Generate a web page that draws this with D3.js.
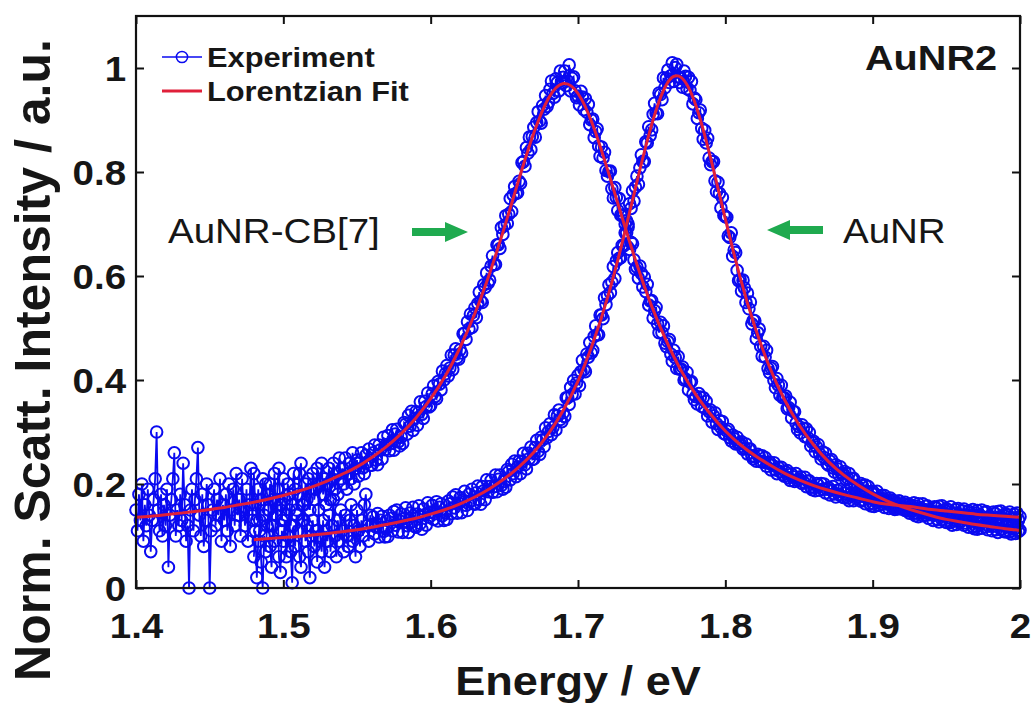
<!DOCTYPE html>
<html>
<head>
<meta charset="utf-8">
<script src="https://cdn.jsdelivr.net/npm/d3@7"></script>
<style>
  html, body { margin: 0; padding: 0; background: #ffffff; }
  svg { display: block; }
</style>
</head>
<body>
<svg id="chart" width="1035" height="705"></svg>
<script>
// ---- energy sampling (eV) ----
const cb7Start = 1.40;      // first sample of the AuNR-CB[7] spectrum
const aunrStart = 1.48;     // first sample of the bare AuNR spectrum
const sampleStep = 0.001;   // spectrometer step
const fitStep = 0.01;       // step of the tabulated Lorentzian fits

// ---- measured scattering, AuNR-CB[7] (one row = 10 meV) ----
const cb7Measured = [
  .15,.11,.18,.13,.20,.09,.16,.12,.19,.14,
  .07,.13,.17,.21,.30,.15,.11,.18,.10,.16,
  .12,.19,.04,.14,.17,.21,.26,.10,.15,.12,
  .18,.13,.24,.16,.09,.12,.00,.15,.19,.11,
  .17,.21,.27,.14,.10,.18,.08,.13,.20,.16,
  .00,.11,.15,.19,.12,.17,.14,.21,.09,.16,
  .13,.18,.11,.20,.08,.15,.19,.12,.22,.14,
  .17,.10,.21,.15,.12,.19,.09,.16,.23,.13,
  .22,.16,.13,.19,.11,.17,.21,.14,.20,.18,
  .15,.20,.12,.17,.22,.14,.19,.23,.16,.13,
  .21,.17,.14,.20,.18,.12,.16,.22,.19,.15,
  .18,.22,.24,.16,.13,.20,.17,.21,.15,.19,
  .22,.17,.19,.23,.15,.20,.24,.18,.21,.16,
  .20,.23,.17,.21,.24,.19,.22,.18,.25,.21,
  .23,.20,.25,.19,.22,.24,.21,.26,.20,.23,
  .246,.215,.241,.260,.231,.220,.255,.242,.267,.236,
  .236,.260,.275,.246,.237,.275,.266,.248,.290,.266,
  .276,.293,.264,.278,.304,.265,.296,.305,.281,.273,
  .290,.278,.318,.315,.296,.332,.311,.340,.303,.326,
  .339,.313,.338,.358,.334,.326,.359,.349,.375,.348,
  .351,.373,.389,.368,.364,.397,.392,.381,.417,.400,
  .412,.428,.408,.423,.448,.420,.448,.460,.443,.440,
  .458,.452,.489,.490,.478,.512,.498,.527,.501,.524,
  .539,.520,.547,.569,.552,.549,.583,.578,.606,.586,
  .592,.619,.639,.622,.622,.660,.660,.653,.693,.680,
  .697,.716,.701,.719,.749,.724,.756,.772,.759,.760,
  .782,.778,.818,.820,.811,.847,.836,.867,.843,.868,
  .886,.867,.895,.916,.898,.894,.928,.921,.947,.926,
  .934,.959,.975,.951,.944,.979,.972,.956,.994,.971,
  .982,.994,.966,.975,1.006,.956,.980,.983,.956,.943,
  .946,.929,.955,.944,.920,.941,.915,.930,.891,.900,
  .902,.866,.878,.883,.850,.830,.848,.827,.838,.803,
  .792,.801,.802,.768,.750,.770,.751,.726,.749,.717,
  .716,.717,.683,.683,.694,.651,.665,.662,.631,.613,
  .617,.596,.619,.605,.579,.598,.570,.584,.544,.552,
  .553,.519,.533,.540,.508,.491,.511,.491,.504,.471,
  .464,.474,.478,.450,.436,.457,.443,.422,.445,.421,
  .421,.425,.400,.402,.415,.381,.396,.397,.373,.362,
  .368,.354,.374,.367,.349,.366,.346,.359,.331,.339,
  .342,.319,.331,.337,.316,.305,.322,.309,.320,.297,
  .296,.302,.305,.289,.283,.294,.287,.277,.290,.277,
  .278,.281,.267,.269,.277,.258,.267,.267,.254,.248,
  .252,.244,.257,.254,.243,.254,.242,.251,.234,.240,
  .242,.227,.236,.241,.227,.220,.232,.224,.232,.218,
  .215,.223,.226,.212,.207,.219,.214,.205,.220,.207,
  .210,.214,.201,.204,.213,.195,.205,.206,.194,.189,
  .194,.187,.201,.198,.188,.201,.190,.200,.183,.190,
  .193,.179,.188,.195,.181,.175,.188,.180,.190,.176,
  .174,.182,.187,.173,.168,.182,.177,.168,.183,.172,
  .175,.179,.167,.170,.179,.162,.173,.174,.162,.158,
  .163,.157,.171,.169,.159,.172,.161,.172,.155,.163,
  .166,.153,.162,.169,.156,.151,.164,.157,.167,.153,
  .152,.161,.165,.152,.148,.161,.157,.149,.164,.153,
  .157,.162,.149,.153,.162,.145,.157,.158,.147,.142,
  .148,.142,.156,.154,.145,.157,.147,.158,.141,.149,
  .153,.140,.149,.156,.143,.137,.151,.144,.153,.140,
  .139,.148,.152,.139,.135,.148,.144,.136,.151,.140,
  .144,.149,.137,.140,.150,.133,.145,.147,.135,.131,
  .137,.131,.146,.143,.134,.147,.137,.148,.131,.139,
  .143,.130,.140,.146,.133,.128,.142,.135,.144,.131,
  .137
];

// ---- measured scattering, bare AuNR (one row = 10 meV) ----
const aunrMeasured = [
  .06,.11,.02,.09,.13,.05,.00,.10,.07,.12,
  .15,.08,.04,.12,.09,.14,.17,.06,.03,.11,
  .09,.13,.06,.10,.15,.07,.01,.12,.08,.14,
  .11,.06,.04,.13,.16,.09,.12,.07,.02,.10,
  .13,.08,.11,.05,.15,.10,.07,.13,.04,.11,
  .09,.14,.07,.12,.17,.10,.06,.13,.09,.15,
  .11,.07,.14,.10,.08,.13,.16,.09,.12,.06,
  .15,.11,.08,.13,.10,.16,.18,.12,.09,.14,
  .122,.137,.104,.117,.143,.098,.130,.138,.109,.098,
  .115,.099,.140,.134,.110,.147,.121,.150,.108,.129,
  .142,.107,.134,.154,.120,.107,.144,.127,.155,.119,
  .117,.142,.158,.124,.113,.152,.141,.121,.164,.136,
  .146,.159,.132,.143,.166,.129,.155,.162,.139,.130,
  .145,.132,.167,.162,.143,.175,.154,.179,.144,.163,
  .174,.145,.169,.186,.159,.149,.180,.167,.190,.162,
  .161,.183,.196,.170,.161,.195,.187,.170,.208,.185,
  .195,.207,.184,.195,.217,.185,.209,.217,.197,.190,
  .205,.194,.228,.224,.208,.238,.220,.244,.214,.233,
  .244,.220,.243,.259,.237,.229,.259,.249,.271,.247,
  .248,.270,.284,.263,.257,.290,.285,.272,.308,.289,
  .301,.316,.295,.309,.333,.304,.331,.342,.324,.320,
  .337,.330,.366,.366,.353,.386,.372,.399,.373,.394,
  .409,.389,.416,.438,.420,.416,.450,.444,.472,.452,
  .457,.484,.504,.487,.487,.525,.525,.518,.558,.545,
  .562,.583,.568,.588,.618,.595,.629,.645,.634,.635,
  .659,.658,.700,.706,.700,.739,.730,.764,.744,.771,
  .792,.776,.808,.833,.820,.820,.858,.856,.887,.870,
  .881,.911,.932,.913,.912,.952,.949,.939,.981,.962,
  .980,.996,.972,.985,1.010,.974,1.001,1.007,.983,.972,
  .980,.963,.994,.984,.960,.982,.957,.974,.931,.942,
  .939,.903,.914,.919,.884,.863,.880,.856,.865,.827,
  .814,.820,.820,.783,.762,.780,.759,.731,.751,.717,
  .714,.713,.677,.674,.683,.638,.650,.645,.611,.591,
  .593,.571,.592,.577,.549,.567,.537,.550,.508,.515,
  .514,.479,.491,.498,.465,.446,.465,.444,.457,.422,
  .414,.423,.426,.399,.385,.403,.390,.371,.390,.366,
  .366,.369,.345,.347,.357,.327,.340,.339,.317,.305,
  .310,.298,.314,.307,.291,.306,.289,.299,.273,.280,
  .282,.262,.271,.276,.258,.248,.262,.251,.259,.239,
  .236,.244,.247,.231,.223,.237,.229,.218,.233,.219,
  .220,.224,.208,.211,.220,.199,.210,.211,.197,.190,
  .195,.187,.201,.197,.186,.198,.186,.195,.177,.184,
  .186,.172,.180,.186,.171,.165,.178,.169,.178,.163,
  .161,.169,.173,.159,.154,.167,.161,.152,.167,.155,
  .158,.162,.149,.152,.161,.144,.155,.156,.144,.139,
  .144,.137,.151,.149,.139,.151,.140,.150,.134,.141,
  .144,.130,.140,.146,.132,.127,.140,.132,.141,.128,
  .126,.135,.139,.126,.121,.135,.130,.122,.137,.126,
  .129,.134,.121,.125,.134,.117,.128,.130,.118,.114,
  .119,.113,.127,.125,.115,.128,.118,.128,.112,.119,
  .123,.110,.119,.126,.112,.107,.121,.113,.123,.109,
  .108,.117,.121,.108,.104,.117,.113,.105,.120,.109,
  .111
];

// ---- Lorentzian fits, tabulated every 10 meV ----
const cb7Fit = [
  .136,.138,.141,.144,.147,.151,.155,.160,.165,.171,
  .178,.186,.195,.206,.219,.233,.251,.272,.297,.327,
  .364,.408,.463,.528,.605,.693,.787,.875,.942,.970,
  .951,.891,.805,.712,.622,.542,.475,.418,.372,.334,
  .302,.276,.255,.237,.221,.208,.197,.188,.180,.173,
  .166,.161,.158,.155,.151,.148,.145,.142,.140,.138,
  .136
];
const aunrFit = [
  .093,.095,
  .097,.099,.102,.105,.108,.112,.117,.122,.128,.134,
  .142,.151,.162,.175,.191,.210,.233,.261,.297,.342,
  .398,.470,.558,.664,.781,.891,.968,.982,.928,.827,
  .710,.598,.503,.425,.363,.314,.275,.243,.218,.198,
  .181,.167,.156,.147,.139,.132,.127,.122,.118,.114,
  .111
];

// ---- axes ----
const xTicks = [1.4, 1.5, 1.6, 1.7, 1.8, 1.9, 2];
const yTicks = [0, 0.2, 0.4, 0.6, 0.8, 1];
const xDomain = [1.4, 2];
const yDomain = [0, 1.1];

const legendLabels = ["Experiment", "Lorentzian Fit"];
const panelLabel = "AuNR2";
const peakLabels = ["AuNR-CB[7]", "AuNR"];

// ---- styling ----
const FONT = "'Liberation Sans', Arial, Helvetica, sans-serif";
const SX = 1.1;               // slight horizontal widening of glyphs
const BLUE = "#0a0af0";
const RED = "#e0203a";
const GREEN = "#1faa4f";
const INK = "#161616";

const svg = d3.select("#chart");
svg.append("rect").attr("width", 1035).attr("height", 705).attr("fill", "#fff");

const plot = { left: 136, right: 1020, top: 16, bottom: 588 };
const x = d3.scaleLinear().domain(xDomain).range([plot.left, plot.right]);
const y = d3.scaleLinear().domain(yDomain).range([plot.bottom, plot.top]);

function toPoints(values, start, step) {
  return values.map((v, i) => ({ e: start + i * step, v }));
}
const cb7Pts = toPoints(cb7Measured, cb7Start, sampleStep);
const aunrPts = toPoints(aunrMeasured, aunrStart, sampleStep);
const cb7FitPts = toPoints(cb7Fit, cb7Start, fitStep);
const aunrFitPts = toPoints(aunrFit, aunrStart, fitStep);

const rawLine = d3.line().x(d => x(d.e)).y(d => y(d.v));
const fitLine = d3.line().x(d => x(d.e)).y(d => y(d.v)).curve(d3.curveNatural);

// measured spectra: line + open circles
const dataLayer = svg.append("g");
[cb7Pts, aunrPts].forEach(pts => {
  const g = dataLayer.append("g");
  g.append("path").datum(pts)
    .attr("d", rawLine)
    .attr("fill", "none")
    .attr("stroke", BLUE)
    .attr("stroke-width", 1.8);
  g.selectAll("circle").data(pts).join("circle")
    .attr("cx", d => x(d.e))
    .attr("cy", d => y(d.v))
    .attr("r", 5.8)
    .attr("fill", "none")
    .attr("stroke", BLUE)
    .attr("stroke-width", 2);
});

// fitted curves on top
[cb7FitPts, aunrFitPts].forEach(pts => {
  svg.append("path").datum(pts)
    .attr("d", fitLine)
    .attr("fill", "none")
    .attr("stroke", RED)
    .attr("stroke-width", 3);
});

// ---- axes with inward ticks on all four sides ----
const TICK = 8;
const axB = svg.append("g").attr("transform", `translate(0,${plot.bottom})`)
  .call(d3.axisBottom(x).tickValues(xTicks).tickSize(-TICK).tickFormat(d => String(d)));
const axL = svg.append("g").attr("transform", `translate(${plot.left},0)`)
  .call(d3.axisLeft(y).tickValues(yTicks).tickSize(-TICK).tickFormat(d => String(d)));
const axT = svg.append("g").attr("transform", `translate(0,${plot.top})`)
  .call(d3.axisTop(x).tickValues(xTicks).tickSize(-TICK).tickFormat(""));
const axR = svg.append("g").attr("transform", `translate(${plot.right},0)`)
  .call(d3.axisRight(y).tickValues(yTicks).tickSize(-TICK).tickFormat(""));

[axB, axL, axT, axR].forEach(a => {
  a.select(".domain").remove();
  a.selectAll(".tick line").attr("stroke", "#111").attr("stroke-width", 2);
});

axB.selectAll(".tick text")
  .attr("y", 50).attr("dy", null)
  .attr("transform", `scale(${SX},1)`)
  .attr("fill", INK)
  .style("font-family", FONT).style("font-size", "35px").style("font-weight", "bold");

axL.selectAll(".tick text")
  .attr("x", -9).attr("dy", "0.36em")
  .attr("transform", `scale(${SX},1)`)
  .attr("fill", INK)
  .style("font-family", FONT).style("font-size", "35px").style("font-weight", "bold");

// frame
svg.append("rect")
  .attr("x", plot.left).attr("y", plot.top)
  .attr("width", plot.right - plot.left).attr("height", plot.bottom - plot.top)
  .attr("fill", "none").attr("stroke", "#111").attr("stroke-width", 2.2);

// ---- text helper ----
function label(txt, px, py, size, weight, anchor, vertical) {
  const tf = vertical
    ? `translate(${px},${py}) rotate(-90)`
    : `translate(${px},${py}) scale(${SX},1)`;
  return svg.append("text")
    .attr("transform", tf)
    .attr("text-anchor", anchor)
    .attr("fill", INK)
    .style("font-family", FONT)
    .style("font-size", size + "px")
    .style("font-weight", weight)
    .text(txt);
}

// axis titles
label("Energy / eV", (plot.left + plot.right) / 2, 695, 41, "bold", "middle", false);
label("Norm. Scatt. Intensity / a.u.", 50, 360, 50, "bold", "middle", true);

// panel label
label(panelLabel, 997, 70, 36, "bold", "end", false);

// legend
const legY = [57, 91];
svg.append("line").attr("x1", 162).attr("x2", 202).attr("y1", legY[0]).attr("y2", legY[0])
  .attr("stroke", BLUE).attr("stroke-width", 1.5);
svg.append("circle").attr("cx", 182).attr("cy", legY[0]).attr("r", 5.6)
  .attr("fill", "none").attr("stroke", BLUE).attr("stroke-width", 1.5);
svg.append("line").attr("x1", 162).attr("x2", 202).attr("y1", legY[1]).attr("y2", legY[1])
  .attr("stroke", RED).attr("stroke-width", 3);
label(legendLabels[0], 207, 67, 28, "bold", "start", false);
label(legendLabels[1], 207, 101, 28, "bold", "start", false);

// peak annotations with arrows
label(peakLabels[0], 168, 243, 35, "normal", "start", false);
label(peakLabels[1], 843, 243, 35, "normal", "start", false);

function arrow(xTail, xHead, yc) {
  const dir = Math.sign(xHead - xTail);
  const headLen = 23, headHalf = 10, shaft = 4;
  const xb = xHead - dir * headLen;
  const pts = [
    [xTail, yc - shaft], [xb, yc - shaft], [xb, yc - headHalf], [xHead, yc],
    [xb, yc + headHalf], [xb, yc + shaft], [xTail, yc + shaft]
  ];
  svg.append("path").attr("d", d3.line()(pts) + "Z").attr("fill", GREEN);
}
arrow(412, 468, 232);
arrow(823, 767, 230);
</script>
</body>
</html>
